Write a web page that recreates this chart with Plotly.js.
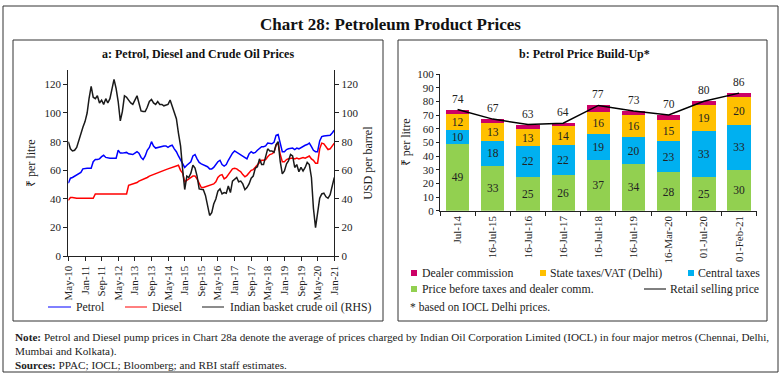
<!DOCTYPE html>
<html>
<head>
<meta charset="utf-8">
<script src="https://cdn.plot.ly/plotly-3.0.1.min.js"></script>
<style>html,body{margin:0;padding:0;background:#fff}#chart{width:781px;height:381px}</style>
</head>
<body>
<div id="chart"></div>
<script>
// ---------- Panel a: monthly, May-10 .. Jan-21 ----------
const startYear = 2010, startMonth = 5; // May 2010
const petrol = [
  51, 54.5, 55, 56, 57, 58, 58.5, 61,
  61.5, 61.5, 61.5, 61.5, 66, 67.5, 67.5, 68, 69.5, 70.5, 69, 68.5,
  68.5, 68.5, 68.5, 68.5, 74, 72, 72, 72.5, 72.5, 71.5, 71, 71,
  72, 73, 72, 69, 67.5, 70, 74, 76, 80, 77, 75.5, 76,
  76, 77, 77, 77, 76, 77, 77.5, 75, 73, 70, 67, 64.5,
  62, 63.5, 65, 66, 70, 71, 68, 65.5, 64.5, 64, 63, 62.5,
  61, 61, 62, 64, 66, 67, 64, 63, 64, 67, 70, 72,
  73.5, 72.5, 72, 71, 70, 68.5, 68, 71.5, 73, 72, 72.5, 74,
  75.5, 76.5, 76.5, 77, 79, 78.5, 78.5, 79.5, 84.5, 85, 78.5, 73,
  73, 74.5, 75, 75.5, 75.5, 74.5, 75.5, 75, 76, 77, 77.5, 78,
  79, 76.5, 74, 73, 73, 80.5, 83.5, 84, 84, 84, 84.5, 86,
  88
];
const diesel = [
  39, 41, 41, 40.5, 40.5, 40.5, 40.5, 40.5,
  40.5, 40.5, 40.5, 40.5, 40.5, 43.5, 43.5, 43.5, 43.5, 43.5, 43.5, 43.5,
  43.5, 43.5, 43.5, 43.5, 43.5, 43.5, 43.5, 43.5, 43.5, 49.5, 50, 50.5,
  51, 51.5, 52.5, 53, 53.5, 54.5, 55, 56, 56.5, 57, 57.5, 58,
  58.5, 59, 60, 60.5, 61, 61.5, 62, 62.5, 63, 63.5, 60, 58,
  52, 53, 54, 55, 56, 56, 54, 51, 48, 48, 48.5, 49,
  49.5, 50, 50.5, 52, 55, 56.5, 57, 54, 55, 57, 59, 61,
  61.5, 61, 60, 59, 57, 55.5, 56.5, 58, 60, 60.5, 62, 63.5,
  65, 67, 67, 67.5, 69.5, 71, 71.5, 72.5, 77.5, 79, 71, 66,
  66, 67.5, 68, 68.5, 68.5, 68, 68.5, 68, 68.5, 69, 68.5, 69.5,
  70, 68, 67, 65, 65, 75, 79, 78.5, 76, 74.5, 75, 77,
  79
];
const crude = [
  80, 75, 73.5, 74, 76, 81, 85, 90,
  94, 100, 110, 118.5, 111, 110, 112, 107, 109, 106, 110, 107,
  110, 117, 123.5, 117, 108, 94.5, 101, 112, 111, 109, 107, 106,
  109, 112, 107, 101.5, 101, 101, 104, 108, 109.5, 107, 106, 108,
  106, 106, 105, 105.5, 106, 109, 105, 101, 96, 86, 77, 61,
  46.6, 56, 55, 58, 63.5, 61.5, 56, 47, 46.5, 46.5, 42.5, 36,
  28.5, 30.5, 36.5, 40, 45.5, 47, 43.5, 44.5, 44, 49, 44.5, 52.5,
  54, 55, 52, 52.5, 50.5, 46.5, 48, 50.5, 54.5, 56, 61.5, 62.5,
  68, 64, 64, 69.5, 75, 73.5, 73.5, 72.5, 78, 80, 66, 57.5,
  59.5, 64.5, 66.5, 71, 70, 62, 64, 59, 62, 59.5, 62, 65.5,
  64, 55, 33.5, 20, 30.5, 40.5, 43.5, 44, 41.5, 40.5, 43, 50,
  55
];
const months = petrol.map((_, i) => {
  const m = startMonth - 1 + i;
  const y = startYear + Math.floor(m / 12);
  const mm = String((m % 12) + 1).padStart(2, '0');
  return y + '-' + mm + '-01';
});

// ---------- Panel b ----------
const buildCats = ['Jul-14','16-Jul-15','16-Jul-16','16-Jul-17','16-Jul-18','16-Jul-19','16-Mar-20','01-Jul-20','01-Feb-21'];
const priceBefore = [49, 33, 25, 26, 37, 34, 28, 25, 30];
const centralTax  = [10, 18, 22, 22, 19, 20, 23, 33, 33];
const stateTax    = [12, 13, 13, 14, 16, 16, 15, 19, 20];
const retailPrice = [74, 67, 63, 64, 77, 73, 70, 80, 86];
const dealerComm  = retailPrice.map((r, i) => r - priceBefore[i] - centralTax[i] - stateTax[i]);

const FONT = 'Liberation Serif, Times New Roman, serif';
const W = 781, H = 381;
const px = x => x / W, py = y => 1 - y / H;

const barText = {family: FONT, size: 11.5, color: '#222'};
const traces = [
  {x: months, y: petrol, type: 'scatter', mode: 'lines', name: 'Petrol', line: {color: '#0000ff', width: 1.5}, xaxis: 'x', yaxis: 'y', showlegend: false},
  {x: months, y: diesel, type: 'scatter', mode: 'lines', name: 'Diesel', line: {color: '#ff0000', width: 1.5}, xaxis: 'x', yaxis: 'y', showlegend: false},
  {x: months, y: crude, type: 'scatter', mode: 'lines', name: 'Indian basket crude oil (RHS)', line: {color: '#1a1a1a', width: 1.5}, xaxis: 'x', yaxis: 'y2', showlegend: false},
  {x: buildCats, y: priceBefore, type: 'bar', name: 'Price before taxes and dealer comm.', marker: {color: '#92d050'}, xaxis: 'x2', yaxis: 'y3', text: priceBefore, textposition: 'inside', insidetextanchor: 'middle', constraintext: 'none', textangle: 0, textfont: barText, showlegend: false},
  {x: buildCats, y: centralTax, type: 'bar', name: 'Central taxes', marker: {color: '#00b0f0'}, xaxis: 'x2', yaxis: 'y3', text: centralTax, textposition: 'inside', insidetextanchor: 'middle', constraintext: 'none', textangle: 0, textfont: barText, showlegend: false},
  {x: buildCats, y: stateTax, type: 'bar', name: 'State taxes/VAT (Delhi)', marker: {color: '#ffc000'}, xaxis: 'x2', yaxis: 'y3', text: stateTax, textposition: 'inside', insidetextanchor: 'middle', constraintext: 'none', textangle: 0, textfont: barText, showlegend: false},
  {x: buildCats, y: dealerComm, type: 'bar', name: 'Dealer commission', marker: {color: '#cc0066'}, xaxis: 'x2', yaxis: 'y3', textposition: 'none', showlegend: false},
  {x: buildCats, y: retailPrice, type: 'scatter', mode: 'lines', name: 'Retail selling price', line: {color: '#000', width: 1.5}, xaxis: 'x2', yaxis: 'y3', showlegend: false}
];

const tickFont = {family: FONT, size: 11, color: '#222'};
const shapes = [
  {type: 'rect', xref: 'paper', yref: 'paper', x0: px(3), x1: px(778), y0: py(372), y1: py(6), line: {color: '#333', width: 1}},
  {type: 'rect', xref: 'paper', yref: 'paper', x0: px(13), x1: px(383), y0: py(321), y1: py(40), line: {color: '#333', width: 1}},
  {type: 'rect', xref: 'paper', yref: 'paper', x0: px(398), x1: px(767), y0: py(321), y1: py(40), line: {color: '#333', width: 1}},
  // legend a
  {type: 'line', xref: 'paper', yref: 'paper', x0: px(48), x1: px(71), y0: py(307), y1: py(307), line: {color: '#0000ff', width: 1}},
  {type: 'line', xref: 'paper', yref: 'paper', x0: px(125), x1: px(147), y0: py(307), y1: py(307), line: {color: '#ff0000', width: 1}},
  {type: 'line', xref: 'paper', yref: 'paper', x0: px(202), x1: px(224), y0: py(307), y1: py(307), line: {color: '#1a1a1a', width: 1}},
  // legend b
  {type: 'rect', xref: 'paper', yref: 'paper', x0: px(411), x1: px(417), y0: py(276), y1: py(270), fillcolor: '#cc0066', line: {width: 0}},
  {type: 'rect', xref: 'paper', yref: 'paper', x0: px(540), x1: px(546), y0: py(276), y1: py(270), fillcolor: '#ffc000', line: {width: 0}},
  {type: 'rect', xref: 'paper', yref: 'paper', x0: px(688), x1: px(694), y0: py(276), y1: py(270), fillcolor: '#00b0f0', line: {width: 0}},
  {type: 'rect', xref: 'paper', yref: 'paper', x0: px(411), x1: px(417), y0: py(292), y1: py(286), fillcolor: '#92d050', line: {width: 0}},
  {type: 'line', xref: 'paper', yref: 'paper', x0: px(644), x1: px(666), y0: py(289), y1: py(289), line: {color: '#000', width: 1}}
];

const ann = (x, y, text, size, extra) => Object.assign({xref: 'paper', yref: 'paper', x: px(x), y: py(y), text, showarrow: false, xanchor: 'left', yanchor: 'middle', font: {family: FONT, size, color: '#222'}}, extra || {});

const annotations = [
  ann(390, 24, '<b>Chart 28: Petroleum Product Prices</b>', 17, {xanchor: 'center', font: {family: FONT, size: 17, color: '#111'}}),
  ann(198, 54, '<b>a: Petrol, Diesel and Crude Oil Prices</b>', 12, {xanchor: 'center', font: {family: FONT, size: 12, color: '#111'}}),
  ann(584, 54, '<b>b: Petrol Price Build-Up*</b>', 12, {xanchor: 'center', font: {family: FONT, size: 12, color: '#111'}}),
  ann(74, 307, 'Petrol', 11.8),
  ann(150, 307, 'Diesel', 11.8),
  ann(228, 307, 'Indian basket crude oil (RHS)', 11.8),
  ann(420, 273, 'Dealer commission', 11.8),
  ann(548, 273, 'State taxes/VAT (Delhi)', 11.8),
  ann(696, 273, 'Central taxes', 11.8),
  ann(420, 289, 'Price before taxes and dealer comm.', 11.8),
  ann(668, 289, 'Retail selling price', 11.8),
  ann(408, 307, '* based on IOCL Delhi prices.', 11.5),
  ann(13, 337, '<b>Note:</b> Petrol and Diesel pump prices in Chart 28a denote the average of prices charged by Indian Oil Corporation Limited (IOCL) in four major metros (Chennai, Delhi,', 11.2),
  ann(13, 351, 'Mumbai and Kolkata).', 11.2),
  ann(13, 365, '<b>Sources:</b> PPAC; IOCL; Bloomberg; and RBI staff estimates.', 11.2)
].concat(buildCats.map((c, i) => ({
  x: c, y: retailPrice[i], xref: 'x2', yref: 'y3', text: String(retailPrice[i]),
  showarrow: false, yshift: 11, font: {family: FONT, size: 11.5, color: '#222'}
})));

const layout = {
  width: W, height: H,
  margin: {l: 0, r: 0, t: 0, b: 0},
  paper_bgcolor: '#fff', plot_bgcolor: 'rgba(0,0,0,0)',
  font: {family: FONT, color: '#222'},
  showlegend: false,
  barmode: 'stack', bargap: 0.34,
  xaxis: {
    domain: [px(68.3), px(334.3)], anchor: 'y', type: 'date',
    range: ['2010-05-01', '2021-01-01'], tick0: '2010-05-01', dtick: 'M8', tickformat: '%b-%y',
    tickangle: -90, tickfont: {family: FONT, size: 11, color: '#222'},
    showline: true, linecolor: '#222', linewidth: 1, ticks: 'outside', ticklen: 4, tickcolor: '#222',
    showgrid: false, zeroline: false
  },
  yaxis: {
    domain: [py(256.3), py(70)], anchor: 'x', range: [0, 130], dtick: 20,
    showline: true, linecolor: '#222', linewidth: 1, ticks: 'outside', ticklen: 4, tickcolor: '#222',
    tickfont: tickFont, showgrid: false, zeroline: false,
    title: {text: '₹ per litre', font: {family: FONT, size: 12, color: '#222'}, standoff: 6}
  },
  yaxis2: {
    overlaying: 'y', side: 'right', anchor: 'x', range: [0, 130], dtick: 20,
    showline: true, linecolor: '#222', linewidth: 1, ticks: 'outside', ticklen: 4, tickcolor: '#222',
    tickfont: tickFont, showgrid: false, zeroline: false,
    title: {text: 'USD per barrel', font: {family: FONT, size: 12, color: '#222'}, standoff: 6}
  },
  xaxis2: {
    domain: [px(440), px(756.7)], anchor: 'y3', type: 'category',
    tickangle: -90, tickfont: {family: FONT, size: 11, color: '#222'},
    showline: true, linecolor: '#222', linewidth: 1, ticks: 'outside', ticklen: 4, tickcolor: '#222',
    tickson: 'boundaries', showgrid: false, zeroline: false
  },
  yaxis3: {
    domain: [py(210.7), py(74)], anchor: 'x2', range: [0, 100], dtick: 10,
    showline: true, linecolor: '#222', linewidth: 1, ticks: 'outside', ticklen: 3, tickcolor: '#222',
    tickfont: tickFont, showgrid: false, zeroline: false,
    title: {text: '₹ per litre', font: {family: FONT, size: 12, color: '#222'}, standoff: 4}
  },
  shapes, annotations
};

Plotly.newPlot('chart', traces, layout, {displayModeBar: false, staticPlot: true});
</script>
</body>
</html>
